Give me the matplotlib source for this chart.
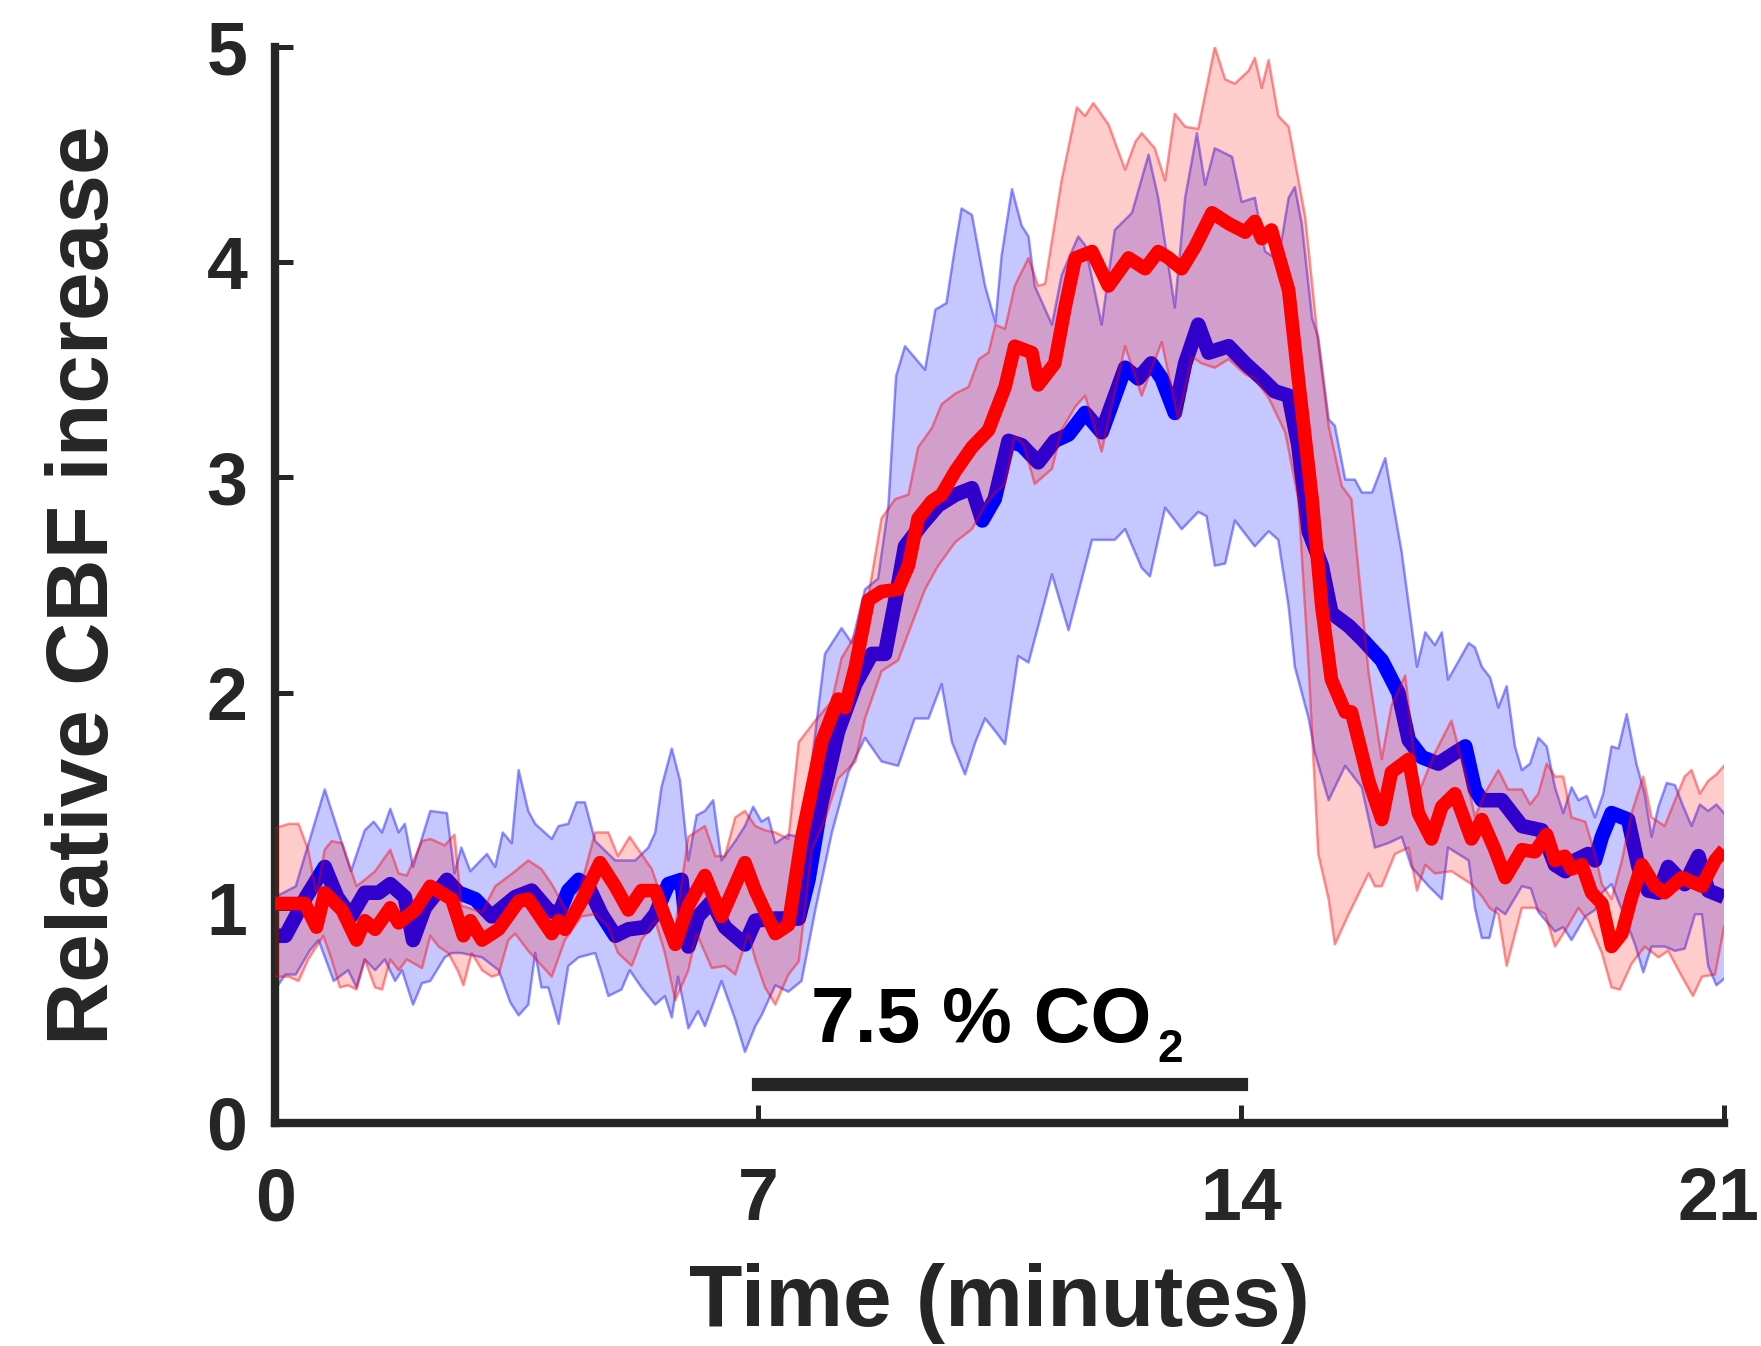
import numpy as np
import matplotlib
matplotlib.use("Agg")
import matplotlib.pyplot as plt
from matplotlib.transforms import ScaledTranslation

# ---------------- data (time in minutes, relative CBF) ----------------
t_blue_mean = [0.0, 0.15, 0.45, 0.72, 0.9, 1.1, 1.3, 1.5, 1.67, 1.88, 2.0, 2.17, 2.49, 2.66, 2.9, 3.14, 3.48, 3.72, 3.96, 4.11, 4.25, 4.4, 4.54, 4.73, 4.93, 5.12, 5.36, 5.51, 5.7, 5.89, 5.99, 6.13, 6.33, 6.52, 6.81, 6.96, 7.25, 7.59, 7.73, 7.92, 8.16, 8.41, 8.65, 8.84, 8.99, 9.13, 9.37, 9.61, 9.86, 10.1, 10.25, 10.43, 10.63, 10.82, 11.06, 11.3, 11.5, 11.74, 11.98, 12.32, 12.51, 12.7, 12.85, 13.04, 13.19, 13.38, 13.53, 13.82, 14.06, 14.3, 14.49, 14.69, 14.83, 14.98, 15.17, 15.31, 15.56, 15.75, 16.04, 16.28, 16.43, 16.62, 16.86, 17.1, 17.25, 17.39, 17.49, 17.78, 18.07, 18.36, 18.55, 18.7, 18.84, 19.03, 19.13, 19.23, 19.37, 19.61, 19.76, 19.9, 20.05, 20.19, 20.43, 20.63, 20.77, 21.0]
blue_mean = [0.87, 0.87, 1.05, 1.19, 1.05, 0.96, 1.07, 1.07, 1.11, 1.05, 0.85, 1.0, 1.13, 1.07, 1.04, 0.96, 1.05, 1.08, 0.99, 0.97, 1.08, 1.13, 1.10, 0.97, 0.87, 0.90, 0.91, 0.97, 1.11, 1.13, 0.82, 0.96, 1.03, 0.91, 0.83, 0.94, 0.95, 0.95, 1.13, 1.49, 1.82, 2.04, 2.18, 2.18, 2.43, 2.68, 2.78, 2.87, 2.92, 2.95, 2.80, 2.90, 3.17, 3.15, 3.07, 3.17, 3.20, 3.30, 3.21, 3.51, 3.46, 3.53, 3.46, 3.30, 3.53, 3.71, 3.58, 3.61, 3.53, 3.46, 3.40, 3.38, 3.15, 2.75, 2.59, 2.37, 2.31, 2.25, 2.15, 2.00, 1.78, 1.70, 1.67, 1.72, 1.75, 1.55, 1.50, 1.50, 1.38, 1.36, 1.20, 1.17, 1.22, 1.25, 1.22, 1.33, 1.44, 1.41, 1.19, 1.08, 1.07, 1.19, 1.11, 1.24, 1.08, 1.05]

t_red_mean = [0.0, 0.43, 0.6, 0.72, 0.97, 1.18, 1.3, 1.45, 1.67, 1.79, 2.03, 2.25, 2.56, 2.73, 2.83, 3.0, 3.24, 3.53, 3.67, 4.01, 4.11, 4.2, 4.44, 4.71, 4.93, 5.12, 5.31, 5.51, 5.8, 5.99, 6.23, 6.47, 6.81, 6.96, 7.25, 7.44, 7.63, 7.92, 8.16, 8.26, 8.41, 8.6, 8.79, 9.03, 9.18, 9.32, 9.52, 9.66, 9.86, 10.1, 10.34, 10.58, 10.72, 10.97, 11.06, 11.3, 11.45, 11.6, 11.84, 12.08, 12.37, 12.61, 12.8, 12.95, 13.14, 13.33, 13.58, 13.82, 14.06, 14.2, 14.3, 14.44, 14.69, 14.83, 15.03, 15.17, 15.31, 15.51, 15.6, 15.85, 16.04, 16.18, 16.43, 16.57, 16.76, 16.91, 17.1, 17.34, 17.49, 17.68, 17.83, 18.07, 18.26, 18.43, 18.55, 18.69, 18.79, 18.94, 19.08, 19.23, 19.37, 19.52, 19.66, 19.81, 20.0, 20.14, 20.39, 20.68, 20.87, 21.0]
red_mean = [1.02, 1.02, 0.91, 1.07, 0.99, 0.85, 0.94, 0.90, 1.0, 0.93, 0.99, 1.10, 1.04, 0.87, 0.94, 0.85, 0.90, 1.03, 1.04, 0.88, 0.94, 0.90, 1.03, 1.21, 1.10, 0.99, 1.08, 1.08, 0.83, 1.01, 1.15, 0.96, 1.21, 1.08, 0.88, 0.92, 1.32, 1.77, 1.97, 1.93, 2.12, 2.43, 2.47, 2.48, 2.59, 2.81, 2.89, 2.92, 3.03, 3.14, 3.22, 3.42, 3.61, 3.58, 3.43, 3.53, 3.79, 4.02, 4.05, 3.89, 4.02, 3.97, 4.05, 4.02, 3.97, 4.07, 4.23, 4.18, 4.14, 4.19, 4.11, 4.15, 3.87, 3.46, 2.90, 2.40, 2.06, 1.91, 1.91, 1.59, 1.41, 1.63, 1.69, 1.44, 1.32, 1.47, 1.53, 1.32, 1.41, 1.27, 1.14, 1.27, 1.26, 1.34, 1.22, 1.24, 1.18, 1.20, 1.07, 1.02, 0.82, 0.88, 1.05, 1.20, 1.10, 1.07, 1.14, 1.10, 1.22, 1.27]

t_blue_hi = [0.0, 0.3, 0.72, 1.1, 1.3, 1.43, 1.55, 1.67, 1.79, 1.88, 2.0, 2.25, 2.49, 2.6, 2.7, 2.83, 3.07, 3.19, 3.3, 3.43, 3.53, 3.67, 3.77, 4.01, 4.11, 4.25, 4.37, 4.49, 4.64, 4.93, 5.22, 5.41, 5.51, 5.6, 5.75, 5.87, 5.99, 6.11, 6.23, 6.35, 6.47, 6.67, 6.81, 6.93, 7.05, 7.15, 7.25, 7.44, 7.59, 7.73, 7.97, 8.21, 8.36, 8.55, 8.74, 8.89, 9.0, 9.13, 9.42, 9.57, 9.73, 9.86, 9.95, 10.1, 10.29, 10.44, 10.53, 10.68, 10.82, 10.92, 11.01, 11.26, 11.4, 11.64, 11.74, 11.98, 12.17, 12.42, 12.66, 12.8, 13.04, 13.19, 13.36, 13.48, 13.62, 13.87, 14.01, 14.2, 14.35, 14.54, 14.69, 14.78, 14.88, 15.03, 15.12, 15.27, 15.36, 15.51, 15.65, 15.75, 15.9, 16.09, 16.33, 16.55, 16.67, 16.81, 16.91, 17.0, 17.3, 17.39, 17.49, 17.61, 17.73, 17.85, 17.97, 18.07, 18.19, 18.31, 18.43, 18.55, 18.67, 18.79, 18.89, 19.01, 19.13, 19.25, 19.37, 19.47, 19.59, 19.73, 19.85, 19.95, 20.05, 20.17, 20.29, 20.41, 20.53, 20.65, 20.77, 20.89, 21.0]
blue_hi = [1.05, 1.10, 1.55, 1.17, 1.36, 1.40, 1.35, 1.46, 1.35, 1.39, 1.19, 1.45, 1.44, 1.16, 1.28, 1.17, 1.25, 1.19, 1.35, 1.30, 1.64, 1.45, 1.39, 1.32, 1.38, 1.39, 1.49, 1.49, 1.31, 1.22, 1.22, 1.28, 1.35, 1.56, 1.74, 1.59, 1.22, 1.43, 1.45, 1.50, 1.22, 1.31, 1.38, 1.47, 1.40, 1.42, 1.30, 1.34, 1.33, 1.55, 2.18, 2.30, 2.23, 2.48, 2.53, 2.87, 3.47, 3.61, 3.50, 3.78, 3.81, 4.08, 4.25, 4.22, 3.89, 3.72, 4.03, 4.34, 4.17, 4.12, 3.89, 3.71, 3.94, 4.12, 4.08, 3.71, 4.15, 4.23, 4.50, 4.30, 3.79, 4.30, 4.60, 4.36, 4.53, 4.49, 4.28, 4.30, 4.05, 4.01, 4.30, 4.35, 4.18, 3.74, 3.65, 3.27, 3.24, 2.99, 2.99, 2.93, 2.93, 3.09, 2.65, 2.12, 2.28, 2.22, 2.28, 2.06, 2.23, 2.21, 2.12, 2.07, 1.93, 2.03, 1.75, 1.64, 1.67, 1.79, 1.75, 1.56, 1.44, 1.56, 1.50, 1.52, 1.42, 1.53, 1.75, 1.74, 1.90, 1.67, 1.53, 1.33, 1.47, 1.58, 1.57, 1.47, 1.38, 1.48, 1.45, 1.48, 1.44]

t_blue_lo = [0.0, 0.15, 0.3, 0.5, 0.63, 0.85, 1.06, 1.18, 1.3, 1.45, 1.59, 1.74, 1.84, 2.0, 2.13, 2.25, 2.46, 2.56, 2.7, 3.0, 3.24, 3.41, 3.53, 3.67, 3.77, 3.86, 3.96, 4.11, 4.25, 4.4, 4.64, 4.73, 4.83, 5.02, 5.14, 5.31, 5.51, 5.65, 5.75, 5.84, 5.99, 6.13, 6.23, 6.47, 6.67, 6.81, 6.96, 7.05, 7.25, 7.44, 7.63, 7.83, 8.07, 8.31, 8.55, 8.79, 9.03, 9.27, 9.47, 9.66, 9.81, 10.0, 10.15, 10.29, 10.44, 10.58, 10.77, 10.92, 11.26, 11.5, 11.84, 12.17, 12.32, 12.56, 12.68, 12.9, 13.14, 13.38, 13.5, 13.62, 13.77, 13.91, 14.2, 14.4, 14.54, 14.69, 14.78, 14.98, 15.07, 15.27, 15.51, 15.75, 15.94, 16.13, 16.33, 16.47, 16.72, 16.91, 17.0, 17.3, 17.39, 17.49, 17.6, 17.7, 17.83, 18.07, 18.2, 18.31, 18.55, 18.67, 18.79, 18.99, 19.13, 19.23, 19.37, 19.52, 19.71, 19.83, 19.95, 20.14, 20.29, 20.43, 20.58, 20.68, 20.77, 20.89, 21.0]
blue_lo = [0.62, 0.69, 0.69, 0.80, 0.85, 0.66, 0.71, 0.63, 0.76, 0.71, 0.76, 0.66, 0.71, 0.55, 0.65, 0.66, 0.77, 0.79, 0.79, 0.77, 0.71, 0.56, 0.50, 0.55, 0.79, 0.63, 0.63, 0.46, 0.73, 0.77, 0.79, 0.70, 0.59, 0.62, 0.71, 0.63, 0.55, 0.59, 0.49, 0.68, 0.44, 0.52, 0.45, 0.66, 0.48, 0.33, 0.45, 0.50, 0.64, 0.61, 0.66, 0.99, 1.35, 1.63, 1.79, 1.68, 1.66, 1.88, 1.88, 2.04, 1.77, 1.62, 1.77, 1.88, 1.82, 1.76, 2.17, 2.14, 2.55, 2.29, 2.71, 2.71, 2.76, 2.58, 2.54, 2.86, 2.76, 2.84, 2.82, 2.59, 2.60, 2.80, 2.68, 2.75, 2.71, 2.40, 2.12, 1.88, 1.72, 1.50, 1.66, 1.56, 1.28, 1.30, 1.33, 1.19, 1.10, 1.04, 1.28, 1.22, 1.00, 0.86, 0.86, 1.00, 0.97, 1.10, 1.09, 0.98, 0.89, 0.91, 0.85, 0.96, 0.99, 1.07, 1.11, 0.99, 0.83, 0.70, 0.82, 0.82, 0.80, 0.81, 0.97, 0.97, 0.73, 0.64, 0.67]

t_red_hi = [0.0, 0.2, 0.34, 0.48, 0.6, 0.72, 0.82, 0.97, 1.18, 1.3, 1.45, 1.67, 1.79, 1.91, 2.13, 2.25, 2.46, 2.6, 2.7, 3.0, 3.19, 3.48, 3.67, 3.86, 4.01, 4.25, 4.44, 4.64, 4.83, 4.97, 5.14, 5.31, 5.46, 5.6, 5.8, 5.99, 6.23, 6.38, 6.52, 6.67, 6.81, 6.96, 7.1, 7.25, 7.44, 7.59, 7.83, 8.07, 8.21, 8.45, 8.6, 8.79, 8.99, 9.18, 9.32, 9.52, 9.66, 9.86, 10.05, 10.2, 10.34, 10.44, 10.58, 10.72, 10.92, 11.06, 11.16, 11.4, 11.62, 11.74, 11.86, 12.08, 12.32, 12.47, 12.56, 12.75, 12.9, 13.04, 13.19, 13.38, 13.62, 13.77, 13.91, 14.11, 14.2, 14.3, 14.4, 14.54, 14.69, 14.93, 15.12, 15.27, 15.46, 15.6, 15.85, 16.04, 16.18, 16.38, 16.57, 16.81, 17.05, 17.3, 17.39, 17.53, 17.73, 17.87, 18.07, 18.19, 18.31, 18.43, 18.55, 18.67, 18.79, 18.99, 19.13, 19.23, 19.37, 19.52, 19.66, 19.83, 19.95, 20.14, 20.29, 20.43, 20.53, 20.65, 20.77, 20.89, 21.0]
red_hi = [1.37, 1.39, 1.39, 1.27, 1.07, 1.27, 1.31, 1.30, 1.10, 1.13, 1.17, 1.27, 1.16, 1.15, 1.31, 1.32, 1.29, 1.34, 1.01, 0.98, 1.10, 1.17, 1.22, 1.18, 1.11, 0.97, 1.11, 1.35, 1.35, 1.24, 1.33, 1.25, 1.18, 1.05, 0.91, 1.33, 1.38, 1.24, 1.24, 1.42, 1.45, 1.38, 1.36, 1.35, 1.32, 1.77, 1.87, 1.96, 2.16, 2.29, 2.45, 2.81, 2.90, 2.92, 3.14, 3.23, 3.34, 3.39, 3.42, 3.55, 3.58, 3.71, 3.69, 3.89, 4.02, 3.89, 3.90, 4.38, 4.72, 4.68, 4.74, 4.64, 4.43, 4.56, 4.60, 4.53, 4.38, 4.69, 4.63, 4.62, 5.0, 4.85, 4.83, 4.89, 4.95, 4.81, 4.94, 4.68, 4.63, 4.21, 3.62, 3.24, 2.96, 2.90, 2.09, 1.69, 1.94, 2.08, 1.53, 1.72, 1.87, 1.56, 1.42, 1.53, 1.64, 1.55, 1.55, 1.48, 1.53, 1.67, 1.61, 1.61, 1.42, 1.40, 1.25, 1.11, 1.04, 1.22, 1.44, 1.61, 1.42, 1.38, 1.50, 1.61, 1.64, 1.53, 1.59, 1.62, 1.66]

t_red_lo = [0.0, 0.2, 0.34, 0.48, 0.6, 0.7, 0.82, 0.94, 1.06, 1.18, 1.3, 1.45, 1.55, 1.67, 1.79, 1.91, 2.13, 2.25, 2.37, 2.51, 2.66, 2.73, 2.85, 3.0, 3.14, 3.24, 3.38, 3.48, 3.67, 4.01, 4.2, 4.44, 4.64, 4.83, 4.97, 5.17, 5.31, 5.51, 5.65, 5.8, 5.99, 6.11, 6.33, 6.52, 6.67, 6.86, 6.96, 7.1, 7.25, 7.44, 7.59, 7.78, 7.97, 8.16, 8.41, 8.55, 8.79, 9.03, 9.23, 9.42, 9.61, 9.86, 10.1, 10.29, 10.44, 10.58, 10.72, 10.85, 11.01, 11.26, 11.4, 11.6, 11.74, 11.98, 12.32, 12.56, 12.85, 13.09, 13.29, 13.43, 13.62, 13.82, 14.06, 14.2, 14.4, 14.64, 14.83, 14.98, 15.12, 15.27, 15.36, 15.56, 15.85, 15.94, 16.04, 16.23, 16.43, 16.55, 16.67, 16.81, 17.05, 17.34, 17.5, 17.6, 17.73, 17.85, 18.07, 18.26, 18.41, 18.55, 18.69, 18.89, 19.03, 19.23, 19.37, 19.49, 19.66, 19.85, 20.05, 20.19, 20.39, 20.55, 20.68, 20.87, 21.0]
red_lo = [0.68, 0.68, 0.66, 0.76, 0.82, 0.87, 0.76, 0.63, 0.64, 0.62, 0.76, 0.63, 0.62, 0.76, 0.71, 0.76, 0.72, 0.87, 0.82, 0.79, 0.70, 0.64, 0.79, 0.71, 0.68, 0.69, 0.85, 0.88, 0.80, 0.68, 0.85, 0.96, 0.97, 0.91, 0.79, 0.73, 0.85, 0.94, 0.79, 0.57, 0.71, 0.88, 0.72, 0.73, 0.69, 0.88, 0.76, 0.63, 0.55, 0.69, 0.75, 1.27, 1.41, 1.60, 1.68, 1.88, 2.10, 2.15, 2.32, 2.48, 2.59, 2.70, 2.76, 2.87, 2.93, 2.97, 3.19, 3.15, 2.97, 3.04, 3.22, 3.33, 3.38, 3.12, 3.61, 3.38, 3.63, 3.27, 3.56, 3.53, 3.51, 3.55, 3.48, 3.46, 3.37, 3.21, 2.90, 2.12, 1.25, 1.04, 0.83, 0.97, 1.16, 1.10, 1.10, 1.25, 1.28, 1.08, 1.20, 1.16, 1.17, 1.11, 1.05, 1.00, 0.97, 0.73, 1.00, 1.00, 0.97, 0.82, 0.89, 1.00, 0.94, 0.79, 0.63, 0.62, 0.74, 0.82, 0.77, 0.80, 0.68, 0.59, 0.68, 0.69, 0.91]

x_ticks = [0, 7, 14, 21]
y_ticks = [0, 1, 2, 3, 4, 5]
co2_start, co2_end, co2_bar_level = 7.0, 14.0, 0.18
co2_label = "7.5 % CO"
co2_sub = "2"
x_label = "Time (minutes)"
y_label = "Relative CBF increase"

# ---------------- style ----------------
plt.rcParams['font.family'] = ['Liberation Sans', 'DejaVu Sans']
plt.rcParams['font.weight'] = 'bold'
dark = '#262626'

fig = plt.figure(figsize=(17.61, 13.46), dpi=100)
ax = fig.add_axes([0.1562, 0.1657, 0.8228, 0.7993])

def band(ax, t_hi, hi, t_lo, lo, color, fa, ea, z):
    xs = np.concatenate([np.asarray(t_hi), np.asarray(t_lo)[::-1]])
    ys = np.concatenate([np.asarray(hi), np.asarray(lo)[::-1]])
    ax.fill(xs, ys, facecolor=color, alpha=fa, edgecolor='none', zorder=z)
    ax.plot(t_hi, hi, color=color, alpha=ea, lw=1.8, zorder=z + 0.1)
    ax.plot(t_lo, lo, color=color, alpha=ea, lw=1.8, zorder=z + 0.1)

band(ax, t_blue_hi, blue_hi, t_blue_lo, blue_lo, (0, 0, 1), 0.22, 0.42, 1)
ax.plot(t_blue_mean, blue_mean, color=(0, 0, 1), lw=10.5, solid_joinstyle='round',
        solid_capstyle='butt', zorder=2)
band(ax, t_red_hi, red_hi, t_red_lo, red_lo, (1, 0, 0), 0.20, 0.42, 3)
ax.plot(t_red_mean, red_mean, color=(1, 0, 0), lw=9.8, solid_joinstyle='round',
        solid_capstyle='butt', zorder=4)

# CO2 bar and label
ax.plot([co2_start, co2_end], [co2_bar_level, co2_bar_level], color=dark, lw=9.5,
        solid_capstyle='projecting', zorder=5)
main_txt = ax.text(7.77, 0.376, co2_label, fontsize=56.5, fontweight='bold',
                   color='black', ha='left', va='baseline', zorder=6)
ax.annotate(co2_sub, xy=(1, 0), xycoords=main_txt, xytext=(4, -10),
            textcoords='offset points', fontsize=33, fontweight='bold',
            color='black', ha='left', va='bottom', zorder=6)

# axes
ax.set_xlim(0, 21)
ax.set_ylim(0, 5)
ax.set_xticks(x_ticks)
ax.set_yticks(y_ticks)
for s in ['top', 'right']:
    ax.spines[s].set_visible(False)
for s in ['left', 'bottom']:
    ax.spines[s].set_linewidth(6)
    ax.spines[s].set_color(dark)
    ax.spines[s].set_capstyle('projecting')
ax.tick_params(axis='both', direction='in', length=13, width=3.6, color=dark,
               labelsize=53, labelcolor=dark)
ax.tick_params(axis='x', pad=31)
ax.tick_params(axis='y', pad=20)
for lab in ax.get_xticklabels() + ax.get_yticklabels():
    lab.set_fontweight('bold')
# keep the last x tick label ("21") inside the figure edge
last = ax.get_xticklabels()[-1]
last.set_transform(last.get_transform() + ScaledTranslation(-6 / 100, 0, fig.dpi_scale_trans))

ax.set_xlabel(x_label, fontsize=63, fontweight='bold', color=dark)
ax.set_ylabel(y_label, fontsize=63, fontweight='bold', color=dark)
ax.xaxis.set_label_coords(0.5, -0.13)
ax.yaxis.set_label_coords(-0.103, 0.5)

fig.savefig('out.png', dpi=100, facecolor='white')
